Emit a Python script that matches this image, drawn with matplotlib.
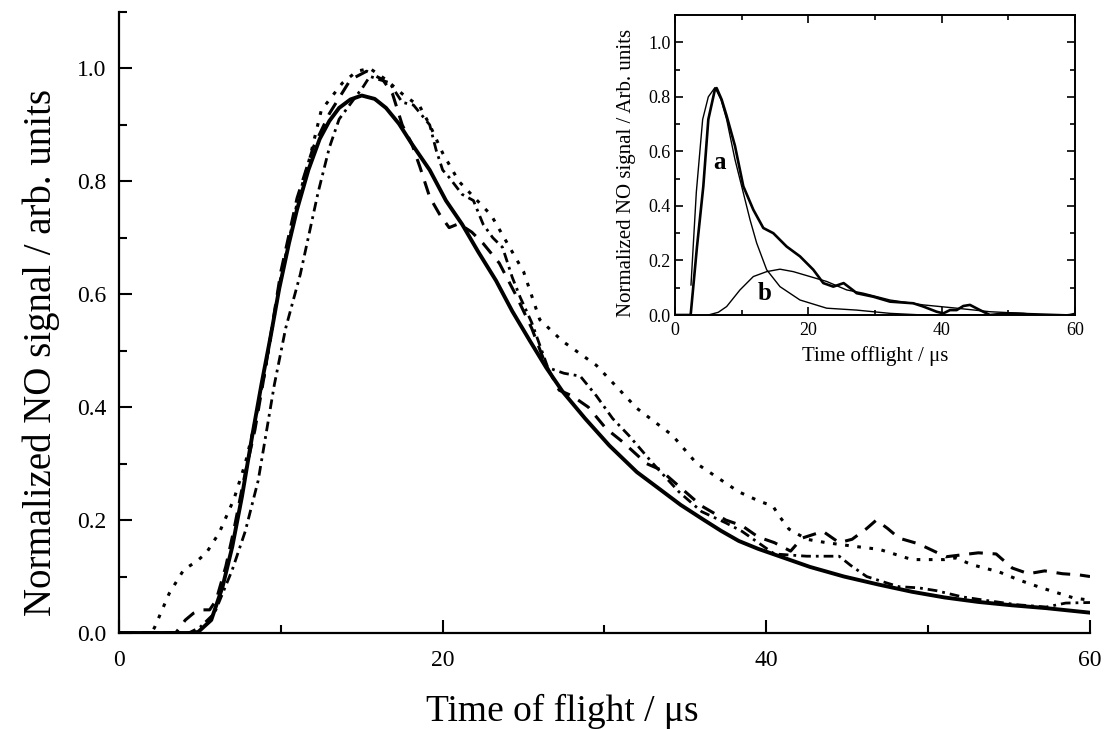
import matplotlib
matplotlib.use("Agg")
import matplotlib.pyplot as plt
from matplotlib.ticker import MultipleLocator

plt.rcParams['font.family'] = ['Liberation Serif', 'DejaVu Serif']
plt.rcParams['mathtext.fontset'] = 'stix'

# ---- main panel: time-of-flight profiles (time in us, normalized signal) ----
fit_t = [0, 4.5, 4.9, 5.7, 6.4, 7.0, 7.6, 8.2, 8.8, 9.4, 9.9, 10.5, 11.0, 11.7,
         12.4, 13.0, 13.6, 14.3, 15.0, 15.8, 16.5, 17.3, 18.1, 19.2, 20.2, 21.2,
         22.2, 23.3, 24.3, 25.4, 26.4, 27.4, 28.8, 30.3, 32.0, 33.4, 34.7, 36.1,
         37.2, 38.3, 39.5, 40.8, 42.7, 44.8, 46.9, 49.0, 51.0, 53.1, 55.2, 57.3,
         60.0]
fit_y = [0, 0, 0.002, 0.023, 0.082, 0.153, 0.242, 0.344, 0.44, 0.53, 0.61, 0.69,
         0.75, 0.82, 0.875, 0.907, 0.93, 0.945, 0.952, 0.946, 0.93, 0.902, 0.866,
         0.82, 0.766, 0.724, 0.675, 0.624, 0.57, 0.517, 0.47, 0.428, 0.38, 0.332,
         0.285, 0.255, 0.227, 0.201, 0.181, 0.163, 0.149, 0.136, 0.117, 0.1,
         0.086, 0.073, 0.063, 0.055, 0.049, 0.044, 0.036]

dot_t = [0, 2.0, 2.2, 3.1, 4.0, 4.8, 5.4, 6.2, 7.1, 7.8, 8.3, 9.0, 10.0, 11.0,
         11.8, 12.5, 13.8, 14.7, 15.5, 16.5, 17.5, 18.6, 19.2, 20.0, 21.0, 22.0,
         23.0, 24.0, 25.0, 26.0, 27.4, 29.5, 32.0, 34.2, 35.7, 37.1, 38.3, 39.6,
         40.4, 40.8, 41.4, 42.5, 43.7, 45.3, 47.0, 49.0, 51.0, 51.7, 52.7, 54.4,
         55.6, 57.0, 59.0, 60.0]
dot_y = [0, 0, 0.01, 0.07, 0.112, 0.127, 0.142, 0.178, 0.237, 0.30, 0.36, 0.46,
         0.63, 0.76, 0.843, 0.926, 0.974, 0.995, 1.0, 0.98, 0.955, 0.932, 0.90,
         0.85, 0.80, 0.77, 0.74, 0.69, 0.64, 0.555, 0.517, 0.474, 0.398, 0.35,
         0.30, 0.273, 0.25, 0.233, 0.225, 0.207, 0.184, 0.166, 0.16, 0.154, 0.148,
         0.13, 0.13, 0.133, 0.121, 0.108, 0.094, 0.08, 0.062, 0.058]

dash_t = [0, 3.5, 4.1, 4.6, 5.1, 5.6, 6.0, 6.6, 7.1, 7.7, 8.4, 9.0, 10.0, 11.0,
          12.0, 13.0, 14.3, 15.3, 16.3, 16.9, 17.5, 18.1, 18.6, 19.2, 19.8, 20.4,
          21.0, 21.8, 22.5, 23.5, 24.5, 25.5, 26.3, 27.2, 28.0, 29.0, 30.1, 31.1,
          32.6, 33.4, 34.6, 36.0, 37.5, 38.5, 39.5, 40.5, 41.5, 42.2, 43.5, 44.5,
          45.3, 46.2, 46.8, 47.5, 48.2, 49.4, 51.1, 53.1, 54.2, 55.2, 56.2, 57.2,
          58.3, 59.3, 60.0]
dash_y = [0, 0, 0.023, 0.035, 0.041, 0.041, 0.058, 0.118, 0.183, 0.27, 0.36,
          0.46, 0.64, 0.77, 0.86, 0.92, 0.98, 0.995, 0.98, 0.955, 0.90, 0.866,
          0.825, 0.772, 0.742, 0.718, 0.725, 0.71, 0.69, 0.655, 0.60, 0.54, 0.48,
          0.43, 0.42, 0.40, 0.362, 0.339, 0.30, 0.29, 0.26, 0.225, 0.20, 0.19,
          0.17, 0.16, 0.145, 0.168, 0.18, 0.16, 0.166, 0.185, 0.20, 0.185, 0.168,
          0.158, 0.135, 0.142, 0.14, 0.115, 0.105, 0.11, 0.105, 0.103, 0.10]

dd_t = [0, 4.3, 5.0, 5.9, 6.4, 7.0, 7.8, 8.6, 9.6, 10.3, 11.2, 12.3, 13.0, 13.6,
        14.5, 15.1, 15.5, 16.1, 16.7, 17.5, 18.2, 19.2, 19.6, 20.0, 20.4, 21.2,
        21.9, 22.5, 23.1, 23.7, 24.3, 24.8, 25.5, 26.5, 27.5, 28.5, 29.5, 30.5,
        31.5, 33.0, 34.6, 36.0, 37.5, 38.5, 39.5, 40.5, 41.5, 42.5, 44.5, 45.2,
        46.2, 47.4, 48.2, 49.4, 50.5, 52.1, 53.5, 55.5, 57.3, 58.5, 60.0]
dd_y = [0, 0, 0.01, 0.035, 0.07, 0.112, 0.18, 0.27, 0.44, 0.54, 0.635, 0.78,
        0.86, 0.91, 0.945, 0.968, 0.986, 0.98, 0.975, 0.94, 0.935, 0.90, 0.855,
        0.82, 0.807, 0.777, 0.766, 0.724, 0.70, 0.683, 0.63, 0.594, 0.55, 0.47,
        0.46, 0.455, 0.42, 0.38, 0.35, 0.30, 0.25, 0.215, 0.195, 0.18, 0.16,
        0.14, 0.138, 0.136, 0.136, 0.12, 0.10, 0.089, 0.082, 0.08, 0.075, 0.064,
        0.058, 0.05, 0.046, 0.053, 0.054]

# ---- inset: decomposition of one profile into components a and b ----
meas_t = [0, 2.35, 3.3, 4.25, 5.0, 6.0, 6.25, 7.0, 7.75, 9.0, 10.25, 11.75,
          13.25, 14.75, 16.75, 18.75, 20.75, 22.25, 23.75, 25.3, 26.75, 27.25,
          29.75, 32.25, 35.75, 37.25, 39.25, 40.25, 41.25, 42.25, 43.25, 44.25,
          45.75, 47.25, 49.75, 52.25, 55.25, 56.25, 57.25, 59.25, 60.0]
meas_y = [0, 0, 0.25, 0.472, 0.717, 0.828, 0.832, 0.79, 0.73, 0.62, 0.472,
          0.386, 0.319, 0.30, 0.251, 0.215, 0.166, 0.117, 0.104, 0.117, 0.09,
          0.08, 0.067, 0.049, 0.043, 0.031, 0.012, 0.006, 0.018, 0.018, 0.033,
          0.037, 0.018, 0.0, 0.006, 0.004, -0.004, -0.012, -0.006, 0.0, 0.004]

comp_a_t = [2.4, 3.2, 4.15, 5.0, 6.0, 6.9, 7.75, 9.0, 10.25, 11.25, 12.25,
            13.75, 15.75, 18.75, 22.75, 27.25, 32.25, 37.25, 45.0, 60.0]
comp_a_y = [0.11, 0.45, 0.717, 0.80, 0.834, 0.79, 0.717, 0.57, 0.448, 0.35,
            0.264, 0.166, 0.104, 0.055, 0.025, 0.018, 0.006, 0.0, 0.0, 0.0]

comp_b_t = [5.0, 6.5, 7.75, 9.75, 11.75, 13.75, 15.75, 17.75, 20.25, 22.75,
            25.75, 28.25, 32.25, 37.25, 42.25, 47.25, 52.25, 60.0]
comp_b_y = [0.0, 0.01, 0.031, 0.092, 0.141, 0.159, 0.168, 0.159, 0.141, 0.123,
            0.092, 0.08, 0.055, 0.037, 0.025, 0.012, 0.006, 0.0]

fig = plt.figure(figsize=(11.04, 7.29), dpi=100)

ax = fig.add_axes([0.1078, 0.1317, 0.8795, 0.8519])
ax.plot(fit_t, fit_y, color='black', lw=2.8, solid_joinstyle='round')
ax.plot(dot_t, dot_y, color='black', lw=2.2, linestyle=(0, (1.2, 2.8)))
ax.plot(dash_t, dash_y, color='black', lw=2.2, linestyle=(0, (4.5, 3.2)))
ax.plot(dd_t, dd_y, color='black', lw=2.0, linestyle=(0, (3.5, 1.8, 1.0, 1.8)))

ax.set_xlim(0, 60)
ax.set_ylim(0, 1.1)
ax.spines['top'].set_visible(False)
ax.spines['right'].set_visible(False)
for s in ('left', 'bottom'):
    ax.spines[s].set_linewidth(1.6)
ax.xaxis.set_major_locator(MultipleLocator(20))
ax.xaxis.set_minor_locator(MultipleLocator(10))
ax.yaxis.set_minor_locator(MultipleLocator(0.1))
ax.set_yticks([0, 0.2, 0.4, 0.6, 0.8, 1.0])
ax.set_yticklabels(['0.0', '0.2', '0.4', '0.6', '0.8', '1.0'])
ax.tick_params(which='major', direction='in', length=9.5, width=1.5,
               labelsize=17)
ax.tick_params(which='minor', direction='in', length=5.5, width=1.5)
ax.tick_params(axis='x', which='major', pad=12)
ax.tick_params(axis='y', which='major', pad=9)
ax.set_xlabel('Time of flight / μs', fontsize=27)
ax.set_ylabel('Normalized NO signal / arb. units', fontsize=28)
ax.xaxis.set_label_coords(0.457, -0.098)
ax.yaxis.set_label_coords(-0.061, 0.452)

ins = fig.add_axes([0.6114, 0.5679, 0.3623, 0.4115])
ins.plot(meas_t, meas_y, color='black', lw=1.9)
ins.plot(comp_a_t, comp_a_y, color='black', lw=1.0)
ins.plot(comp_b_t, comp_b_y, color='black', lw=1.0)
ins.set_xlim(0, 60)
ins.set_ylim(0, 1.1)
for s in ins.spines.values():
    s.set_linewidth(1.4)
ins.xaxis.set_major_locator(MultipleLocator(20))
ins.xaxis.set_minor_locator(MultipleLocator(10))
ins.set_yticks([0, 0.2, 0.4, 0.6, 0.8, 1.0])
ins.set_yticklabels(['0.0', '0.2', '0.4', '0.6', '0.8', '1.0'])
ins.yaxis.set_minor_locator(MultipleLocator(0.1))
ins.tick_params(which='both', direction='in', top=True, right=True, width=1.2)
ins.tick_params(which='major', length=6, labelsize=13)
ins.tick_params(which='minor', length=3.5)
ins.tick_params(axis='x', pad=5)
ins.tick_params(axis='y', pad=3)
ins.set_xlabel('Time offlight / μs', fontsize=15)
ins.set_ylabel('Normalized NO signal / Arb. units', fontsize=15)
ins.xaxis.set_label_coords(0.5, -0.105)
ins.yaxis.set_label_coords(-0.097, 0.473)
ins.text(6.65, 0.56, 'a', fontsize=18, fontweight='bold', ha='center', va='center')
ins.text(13.4, 0.08, 'b', fontsize=18, fontweight='bold', ha='center', va='center')

fig.savefig('out.png', dpi=100)
